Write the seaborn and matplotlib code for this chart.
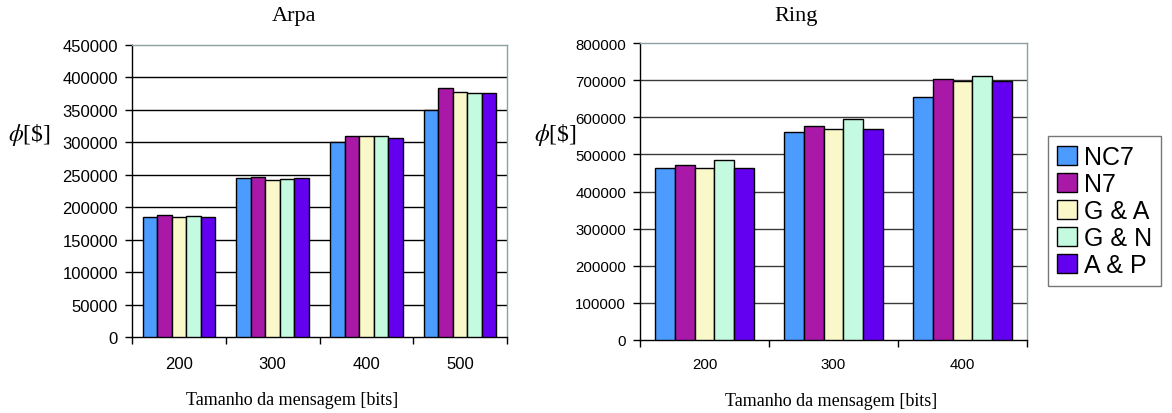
import numpy as np
import pandas as pd
import matplotlib
matplotlib.use("Agg")
import matplotlib.pyplot as plt
import seaborn as sns

sns.set_theme(style="white")
plt.rcParams['font.family'] = ['Liberation Sans', 'DejaVu Sans']
plt.rcParams['mathtext.fontset'] = 'stix'
plt.rcParams['text.color'] = 'black'
plt.rcParams['xtick.color'] = 'black'
plt.rcParams['ytick.color'] = 'black'

methods = ["NC7", "N7", "G & A", "G & N", "A & P"]
colors = ["#4C9BFF", "#AA18A8", "#FAF8C8", "#C3FAE0", "#6400F0"]

arpa_sizes = ["200", "300", "400", "500"]
arpa_nc7 = [184300, 244400, 300800, 350100]
arpa_n7 = [187900, 246400, 309000, 384000]
arpa_ga = [184300, 242300, 309000, 377800]
arpa_gn = [186300, 243800, 309000, 375300]
arpa_ap = [184300, 244400, 307000, 375300]

ring_sizes = ["200", "300", "400"]
ring_nc7 = [462600, 560700, 654400]
ring_n7 = [470700, 576000, 703900]
ring_ga = [462600, 568000, 696700]
ring_gn = [485100, 595000, 711100]
ring_ap = [462600, 568000, 696700]

arpa_ticks = list(range(0, 450001, 50000))
ring_ticks = list(range(0, 800001, 100000))


def long_df(sizes, series):
    rows = []
    for m, vals in zip(methods, series):
        for s, v in zip(sizes, vals):
            rows.append({"size": s, "method": m, "value": v})
    return pd.DataFrame(rows)


W, H = 1172, 414
fig = plt.figure(figsize=(W / 100, H / 100), dpi=100)


def px_axes(l, t, r, b):
    return fig.add_axes([l / W, 1 - b / H, (r - l) / W, (b - t) / H])


def draw(ax, sizes, series, ticks, ymax, fs, xpad, gridc, legend=False):
    df = long_df(sizes, series)
    sns.barplot(data=df, x="size", y="value", hue="method", hue_order=methods,
                palette=colors, saturation=1, width=0.775, edgecolor="black",
                linewidth=1.0, ax=ax, legend=legend, zorder=3)
    n = len(sizes)
    ax.set_xlim(-0.5, n - 0.5)
    ax.set_ylim(0, ymax)
    ax.set_yticks(ticks)
    ax.set_yticklabels([str(t) for t in ticks], fontsize=fs)
    ax.set_xticks(range(n))
    ax.set_xticklabels(sizes, fontsize=fs)
    ax.set_xticks(np.arange(-0.5, n, 1.0), minor=True)
    ax.tick_params(axis="x", which="major", length=0, pad=xpad)
    ax.tick_params(axis="x", which="minor", length=5, width=1, color="black", direction="out", bottom=True)
    ax.tick_params(axis="y", which="major", length=5, width=1, color="black", direction="out", pad=5, left=True)
    for t in ticks[1:-1]:
        ax.axhline(t, color=gridc, lw=1.0, zorder=1)
    ax.spines["left"].set_color("black")
    ax.spines["bottom"].set_color("black")
    ax.spines["right"].set_color("#8fa0a0")
    ax.spines["top"].set_color("#8fa0a0")
    for s in ["left", "bottom", "right", "top"]:
        ax.spines[s].set_linewidth(1.0)
    ax.set_xlabel("")
    ax.set_ylabel("")
    ax.grid(False)


ax1 = px_axes(132, 46, 507, 338)
draw(ax1, arpa_sizes, [arpa_nc7, arpa_n7, arpa_ga, arpa_gn, arpa_ap], arpa_ticks, 450000, 12, 14, "black")

ax2 = px_axes(640, 44, 1027, 341)
draw(ax2, ring_sizes, [ring_nc7, ring_n7, ring_ga, ring_gn, ring_ap], ring_ticks, 800000, 10.8, 12, "#3a3a3a", legend=True)

handles, labels = ax2.get_legend_handles_labels()
ax2.get_legend().remove()
leg = fig.legend(handles, labels, loc="upper left", bbox_to_anchor=(1048 / W, 1 - 137 / H),
                 frameon=True, fancybox=False, fontsize=18, handlelength=0.8, handleheight=0.8,
                 handletextpad=0.3, labelspacing=0.12, borderpad=0.35, borderaxespad=0)
leg.get_frame().set_edgecolor("#555555")
leg.get_frame().set_linewidth(1.0)

serif = ['Liberation Serif', 'DejaVu Serif']
fig.text(294 / W, 1 - 16 / H, "Arpa", ha="center", va="center", fontsize=16, family=serif)
fig.text(796 / W, 1 - 16 / H, "Ring", ha="center", va="center", fontsize=16, family=serif)
fig.text(292 / W, 1 - 401 / H, "Tamanho da mensagem [bits]", ha="center", va="center", fontsize=13, family=serif)
fig.text(831 / W, 1 - 402 / H, "Tamanho da mensagem [bits]", ha="center", va="center", fontsize=13, family=serif)
fig.text(29 / W, 1 - 135 / H, r"$\phi$[\$]", ha="center", va="center", fontsize=17, family=serif)
fig.text(555 / W, 1 - 135 / H, r"$\phi$[\$]", ha="center", va="center", fontsize=17, family=serif)

fig.savefig("out.png", dpi=100)
